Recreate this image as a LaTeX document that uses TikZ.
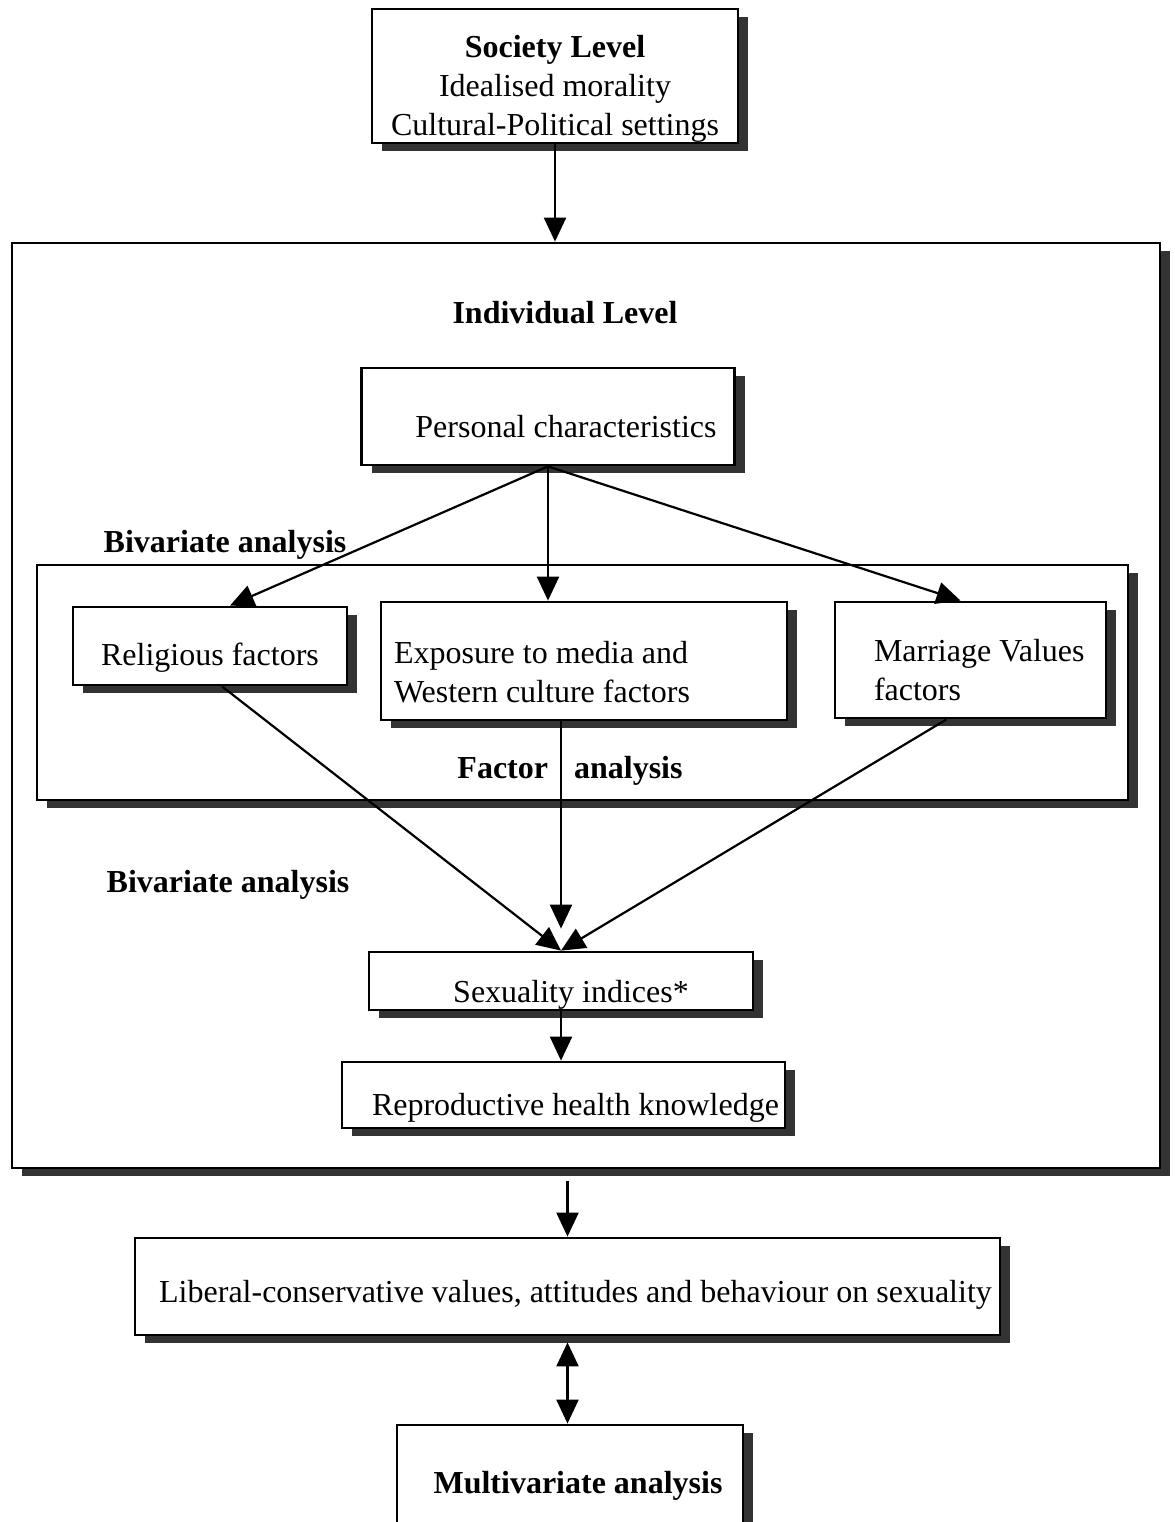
\documentclass[tikz,border=0pt]{standalone}
\usepackage{fontspec}
\setmainfont{Liberation Serif}
\usetikzlibrary{arrows.meta,shadows}
\newcommand{\boxstrut}[1][27pt]{\rule[-4pt]{0pt}{#1}}

\begin{document}
\begin{tikzpicture}[
    x=0.5pt, y=-0.5pt,
    every node/.style={font=\fontsize{16}{19.3}\selectfont},
    box/.style={draw,line width=1.4pt,fill=white,inner sep=0pt,
        drop shadow={shadow xshift=5pt,shadow yshift=-4pt,fill=black!80,opacity=1}},
    heading/.style={font=\fontsize{16}{19.3}\selectfont\bfseries},
    arr/.style={-{Triangle[length=12pt,width=11pt]},line width=1.1pt},
    twoway/.style={{Triangle[length=12pt,width=11pt]}-{Triangle[length=12pt,width=11pt]},line width=1.1pt}
]
\useasboundingbox (0,0) rectangle (1174,1522);

% society level
\node [box,minimum width=183pt,minimum height=67pt,align=center] (society) at (555,76)
    {\boxstrut[28pt]\textbf{Society Level}\\Idealised morality\\Cultural-Political settings};

% individual level
\node [box,minimum width=574pt,minimum height=462.5pt] (indiv) at (586,705.5) {};
\node [heading] (indivlbl) at (565,313) {Individual Level};

\node [box,minimum width=186.5pt,minimum height=48.5pt] (personal) at (548,416.5)
    {\boxstrut[29pt]\hspace{18pt}Personal characteristics};
\node [heading] (bivtop) at (225,545) {Bivariate analysis};

\node [box,minimum width=545.5pt,minimum height=117.5pt] (factor) at (582.5,682.5) {};
\node [box,minimum width=137pt,minimum height=39pt] (religious) at (210,646)
    {\boxstrut Religious factors};
\node [box,minimum width=203pt,minimum height=59pt,align=flush left,text width=190pt,inner xsep=6.5pt] (exposure) at (584,661)
    {\boxstrut[26pt]Exposure to media and\\Western culture factors};
\node [box,minimum width=135.5pt,minimum height=58pt,align=flush left,text width=96.5pt,inner xsep=19.5pt] (marriage) at (970.5,660)
    {\boxstrut[25pt]\mbox{Marriage Values}\\factors};
\node [heading] (factorlbl) at (570,771) {Factor\hspace{9pt} analysis};

\node [heading] (bivbot) at (228,885) {Bivariate analysis};
\node [box,minimum width=192pt,minimum height=29pt] (sexuality) at (561,981)
    {\boxstrut[29pt]\hspace{10pt}Sexuality indices*};
\node [box,minimum width=221.5pt,minimum height=33pt] (reproductive) at (563.5,1095)
    {\boxstrut[28pt]\hspace{12pt}Reproductive health knowledge};

% outcome
\node [box,minimum width=432.5pt,minimum height=48.5pt] (liberal) at (567.5,1286.5)
    {\boxstrut[24pt]\hspace{8pt}Liberal-conservative values, attitudes and behaviour on sexuality};
\node [box,minimum width=173pt,minimum height=55pt] (multi) at (570,1480)
    {\boxstrut[21pt]\hspace{8pt}\textbf{Multivariate analysis}};

% arrows
\draw [arr] (society.south) -- (society.south |- indiv.north);

\draw [arr] (personal.south) -- ([xshift=10pt]religious.north);
\draw [arr] (personal.south) -- (personal.south |- exposure.north);
\draw [arr] (personal.south) -- ([xshift=-5pt]marriage.north);

\draw [arr] ([xshift=6pt]religious.south) -- (sexuality.north);
\draw [arr] (exposure.south -| sexuality.north) -- ([yshift=11pt]sexuality.north);
\draw [arr] ([xshift=-12pt]marriage.south) -- (sexuality.north);

\draw [arr] (sexuality.south) -- (sexuality.south |- reproductive.north);

\coordinate (indivout) at ([yshift=-6pt]indiv.south);
\draw [arr] (indivout -| liberal.north) -- (liberal.north);
\draw [twoway] ([yshift=-3pt]liberal.south) -- (liberal.south |- multi.north);

\end{tikzpicture}
\end{document}
